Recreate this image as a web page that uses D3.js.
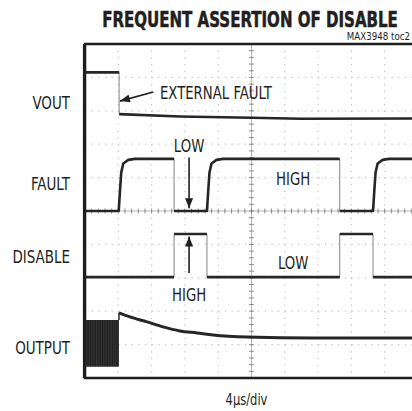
<!DOCTYPE html>
<html>
<head>
<meta charset="utf-8">
<script src="https://cdn.jsdelivr.net/npm/d3@7/dist/d3.min.js"></script>
<style>
body { margin: 0; background: #fff; }
text { font-family: "Liberation Sans Narrow", "DejaVu Sans Condensed", "Roboto Condensed", sans-serif; fill: #231f20; }
</style>
</head>
<body>
<svg id="chart" width="412" height="411"></svg>
<script>
// scope capture, time in us (4us/div), level in divisions from screen centre
var voutTrace = [[0,4.15],[4.1,4.15],[4.1,2.9],[11.4,2.83],[20,2.79],[26,2.76],[40,2.77]];
var faultTrace = [[0,0],[4.05,0],[4.2,0.6],[4.35,1.15],[4.6,1.42],[5.2,1.53],[6,1.56],[10.7,1.56],[10.7,0],
	[14.65,0],[14.8,0.6],[14.95,1.15],[15.2,1.42],[15.8,1.53],[16.6,1.56],[30.6,1.56],[30.6,0],
	[34.6,0],[34.75,0.6],[34.9,1.15],[35.15,1.42],[35.75,1.53],[36.5,1.56],[40,1.56]];
var disableTrace = [[0,-1.98],[10.7,-1.98],[10.7,-0.69],[14.65,-0.69],[14.65,-1.98],[30.6,-1.98],[30.6,-0.69],[34.6,-0.69],[34.6,-1.98],[40,-1.98]];
var outputBand = [[0,-3.26,-4.66],[4.08,-3.26,-4.66]];
var outputTrace = [[4.08,-3.05],[5.4,-3.17],[7.45,-3.32],[9.37,-3.47],[11.4,-3.59],[13.45,-3.65],[15.4,-3.71],[19.5,-3.77],[27.4,-3.8],[40,-3.8]];

var channels = ["VOUT", "FAULT", "DISABLE", "OUTPUT"];
var channelLevels = [3.05, 0.64, -1.56, -4.28];

var notes = [
	{text: "EXTERNAL FAULT", t: 9.0, v: 3.35, anchor: "start"},
	{text: "LOW", t: 12.5, v: 1.77, anchor: "middle"},
	{text: "HIGH", t: 25, v: 0.78, anchor: "middle"},
	{text: "LOW", t: 25, v: -1.74, anchor: "middle"},
	{text: "HIGH", t: 12.5, v: -2.69, anchor: "middle"}
];
var arrows = [
	{from: [8.2, 3.56], to: [4.2, 3.29]},
	{from: [12.5, 1.6], to: [12.5, 0.08]},
	{from: [12.5, -1.86], to: [12.5, -0.76]}
];

var title = "FREQUENT ASSERTION OF DISABLE";
var figId = "MAX3948 toc2";
var timebase = "4\u00b5s/div";

var svg = d3.select("#chart");
var x = d3.scaleLinear().domain([0, 40]).range([85, 418]);
var y = d3.scaleLinear().domain([-5, 5]).range([378, 44]);

// condensed text: squeeze horizontally around the anchor point
function narrow(sel, px, py, sx) {
	return sel.attr("transform", function(d, i) {
		return "translate(" + px(d, i) + "," + py(d, i) + ") scale(" + sx + ",1)";
	});
}

var defs = svg.append("defs");
var pat = defs.append("pattern").attr("id", "streaks").attr("patternUnits", "userSpaceOnUse")
	.attr("width", 1.7).attr("height", 10);
pat.append("rect").attr("width", 1.7).attr("height", 10).style("fill", "#4a4a4a");
pat.append("rect").attr("width", 1.2).attr("height", 10).style("fill", "#1c1c1c");

// dotted graticule
var divs = d3.range(-5, 6);
var minor = d3.range(-5, 5.01, 0.2);
var grid = svg.append("g");
grid.selectAll(".vg").data(d3.range(1, 10)).enter().append("line")
	.attr("x1", function(d) { return x(d * 4); }).attr("x2", function(d) { return x(d * 4); })
	.attr("y1", y(5)).attr("y2", y(-5))
	.style("stroke", "#c2c2c2").style("stroke-width", 1.2)
	.style("stroke-dasharray", "1.2," + (y(4.8) - y(5) - 1.2));
grid.selectAll(".hg").data(divs.filter(function(d) { return d > -5 && d < 5; })).enter().append("line")
	.attr("y1", function(d) { return y(d); }).attr("y2", function(d) { return y(d); })
	.attr("x1", x(0)).attr("x2", x(40))
	.style("stroke", "#c2c2c2").style("stroke-width", 1.2)
	.style("stroke-dasharray", "1.2," + (x(0.8) - x(0) - 1.2));

// centre axes with minor ticks
grid.append("line").attr("x1", x(20)).attr("x2", x(20)).attr("y1", y(5)).attr("y2", y(-5))
	.style("stroke", "#999").style("stroke-width", 0.7);
grid.append("line").attr("x1", x(0)).attr("x2", x(40)).attr("y1", y(0)).attr("y2", y(0))
	.style("stroke", "#999").style("stroke-width", 0.7);
grid.selectAll(".vt").data(minor).enter().append("line")
	.attr("x1", x(20) - 2.5).attr("x2", x(20) + 2.5)
	.attr("y1", function(d) { return y(d); }).attr("y2", function(d) { return y(d); })
	.style("stroke", "#777").style("stroke-width", 0.8);
grid.selectAll(".ht").data(d3.range(0, 40.01, 0.8)).enter().append("line")
	.attr("y1", y(0) - 2.5).attr("y2", y(0) + 2.5)
	.attr("x1", function(d) { return x(d); }).attr("x2", function(d) { return x(d); })
	.style("stroke", "#777").style("stroke-width", 0.8);

// traces: thin fast edges, thick noisy levels
var line = d3.line().x(function(d) { return x(d[0]); }).y(function(d) { return y(d[1]); });
var traces = [voutTrace, faultTrace, disableTrace];
traces.forEach(function(tr) {
	svg.append("path").attr("d", line(tr)).style("fill", "none").style("stroke", "#777").style("stroke-width", 0.9);
	var runs = [], cur = [tr[0]];
	for (var i = 1; i < tr.length; i++) {
		if (tr[i][0] == tr[i - 1][0]) { runs.push(cur); cur = [tr[i]]; }
		else cur.push(tr[i]);
	}
	runs.push(cur);
	svg.selectAll(null).data(runs.filter(function(r) { return r.length > 1; })).enter().append("path")
		.attr("d", line).style("fill", "none").style("stroke", "#262626").style("stroke-width", 2.6)
		.style("stroke-linejoin", "round");
});

var band = d3.area().x(function(d) { return x(d[0]); }).y0(function(d) { return y(d[2]); }).y1(function(d) { return y(d[1]); });
svg.append("path").attr("d", band(outputBand)).style("fill", "url(#streaks)");
svg.append("line").attr("x1", x(outputBand[1][0])).attr("x2", x(outputBand[1][0]))
	.attr("y1", y(outputTrace[0][1])).attr("y2", y(outputBand[1][1]))
	.style("stroke", "#262626").style("stroke-width", 1.5);
svg.append("path").attr("d", line.curve(d3.curveMonotoneX)(outputTrace))
	.style("fill", "none").style("stroke", "#262626").style("stroke-width", 3);

// frame
svg.append("path")
	.attr("d", "M" + (x(40) + 5) + "," + y(5) + "H" + x(0) + "V" + y(-5) + "H" + (x(40) + 5))
	.style("fill", "none").style("stroke", "#1e1e1e").style("stroke-width", 2.4);
svg.append("line").attr("x1", x(0) - 0.5).attr("x2", x(0) - 0.5).attr("y1", y(5)).attr("y2", y(-5))
	.style("stroke", "#1e1e1e").style("stroke-width", 3.2);

// arrows
defs.append("marker").attr("id", "head")
	.attr("viewBox", "0 0 10 8").attr("refX", 10).attr("refY", 4)
	.attr("markerWidth", 11).attr("markerHeight", 8).attr("markerUnits", "userSpaceOnUse")
	.attr("orient", "auto")
	.append("path").attr("d", "M0,0L10,4L0,8Z").style("fill", "#231f20");
svg.selectAll(".arrow").data(arrows).enter().append("line")
	.attr("x1", function(d) { return x(d.from[0]); }).attr("y1", function(d) { return y(d.from[1]); })
	.attr("x2", function(d) { return x(d.to[0]); }).attr("y2", function(d) { return y(d.to[1]); })
	.style("stroke", "#231f20").style("stroke-width", 1.6)
	.attr("marker-end", "url(#head)");

// texts
narrow(svg.selectAll(".note").data(notes).enter().append("text")
	.attr("text-anchor", function(d) { return d.anchor; })
	.style("font-size", "18px")
	.text(function(d) { return d.text; }),
	function(d) { return x(d.t); }, function(d) { return y(d.v); }, 0.82);

narrow(svg.selectAll(".chan").data(channels).enter().append("text")
	.attr("text-anchor", "end")
	.style("font-size", "17px")
	.text(function(d) { return d; }),
	function() { return 70; }, function(d, i) { return y(channelLevels[i]); }, 0.88);

// title squeezed to the width of the plot heading
var tt = svg.append("text").attr("text-anchor", "middle")
	.style("font-size", "21px").style("font-weight", "bold")
	.style("stroke", "#231f20").style("stroke-width", 0.5)
	.text(title);
var tw = tt.node().getComputedTextLength();
narrow(tt, function() { return 250; }, function() { return 27; }, 296 / tw);

narrow(svg.append("text").attr("text-anchor", "end")
	.style("font-size", "10.5px")
	.text(figId),
	function() { return 410; }, function() { return 40; }, 0.92);
narrow(svg.append("text").attr("text-anchor", "middle")
	.style("font-size", "16px")
	.text(timebase),
	function() { return x(20) - 5; }, function() { return 405; }, 0.8);
</script>
</body>
</html>
